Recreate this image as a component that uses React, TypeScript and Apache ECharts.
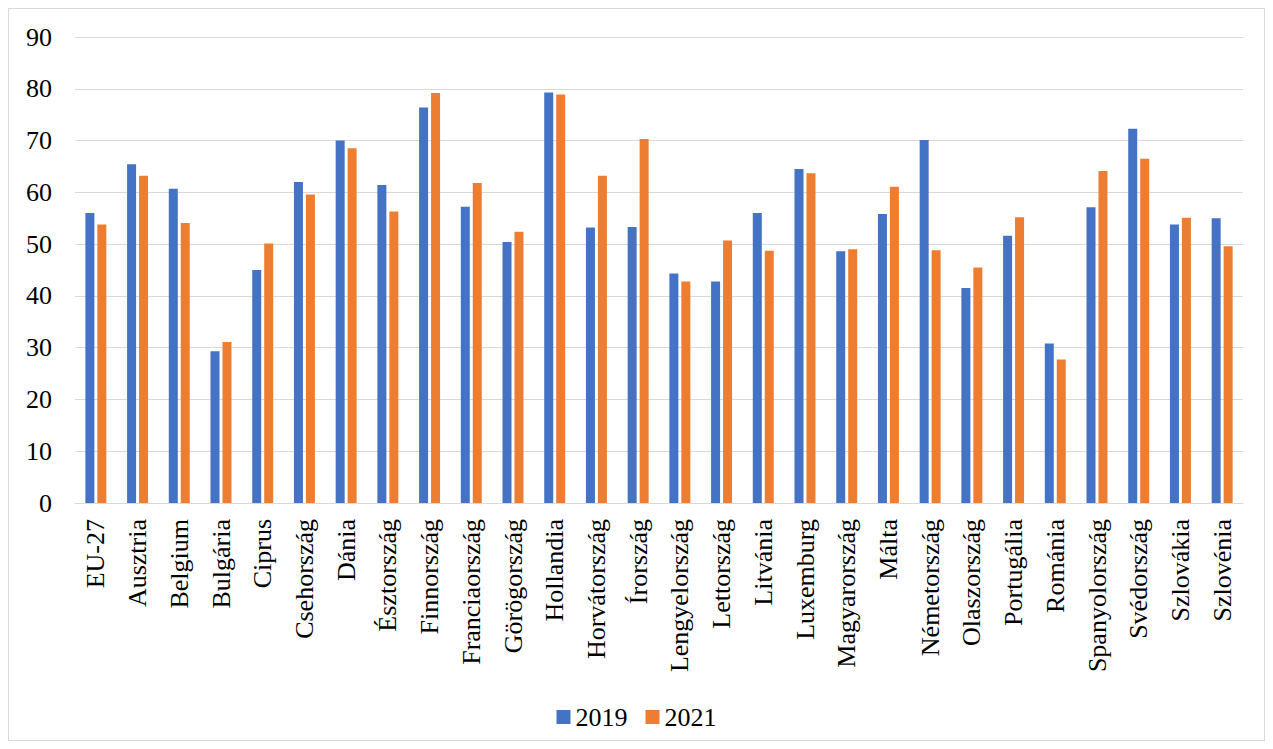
import React, { useEffect, useRef } from "react";
import * as echarts from "echarts";

const categories = [
  "EU-27", "Ausztria", "Belgium", "Bulgária", "Ciprus", "Csehország", "Dánia",
  "Észtország", "Finnország", "Franciaország", "Görögország", "Hollandia",
  "Horvátország", "Írország", "Lengyelország", "Lettország", "Litvánia",
  "Luxemburg", "Magyarország", "Málta", "Németország", "Olaszország",
  "Portugália", "Románia", "Spanyolország", "Svédország", "Szlovákia", "Szlovénia",
];

const values2019 = [
  56.0, 65.4, 60.7, 29.3, 45.0, 62.0, 70.0, 61.4, 76.4, 57.2, 50.4, 79.3, 53.2, 53.3,
  44.3, 42.8, 56.0, 64.5, 48.6, 55.8, 70.1, 41.5, 51.6, 30.8, 57.1, 72.3, 53.8, 55.0,
];

const values2021 = [
  53.8, 63.2, 54.1, 31.1, 50.1, 59.6, 68.5, 56.3, 79.2, 61.8, 52.4, 78.9, 63.2, 70.3,
  42.8, 50.7, 48.7, 63.7, 49.0, 61.1, 48.8, 45.5, 55.2, 27.7, 64.1, 66.5, 55.1, 49.6,
];

const seriesNames = ["2019", "2021"];
const yTicks = { min: 0, max: 90, interval: 10 };

const FONT = "'Liberation Serif', 'Times New Roman', serif";

export default function App() {
  const ref = useRef<HTMLDivElement>(null);

  useEffect(() => {
    if (!ref.current) return;
    const chart = echarts.init(ref.current, undefined, { renderer: "svg" });
    chart.setOption({
      animation: false,
      backgroundColor: "#ffffff",
      textStyle: { fontFamily: FONT, color: "#000" },
      grid: { left: 66, right: 21, top: 28, bottom: 237, containLabel: false },
      legend: {
        data: seriesNames,
        top: 690,
        left: "center",
        itemWidth: 14,
        itemHeight: 14,
        itemGap: 18,
        icon: "rect",
        textStyle: { fontFamily: FONT, fontSize: 26, color: "#000" },
      },
      xAxis: {
        type: "category",
        data: categories,
        axisLine: { show: true, lineStyle: { color: "#d9d9d9", width: 1 } },
        axisTick: { show: false },
        axisLabel: {
          rotate: 90,
          interval: 0,
          margin: 16,
          fontFamily: FONT,
          fontSize: 26,
          color: "#000",
        },
      },
      yAxis: {
        type: "value",
        min: yTicks.min,
        max: yTicks.max,
        interval: yTicks.interval,
        axisLine: { show: false },
        axisTick: { show: false },
        splitLine: { lineStyle: { color: "#d9d9d9", width: 1 } },
        axisLabel: { margin: 23, fontFamily: FONT, fontSize: 26, color: "#000" },
      },
      series: [
        {
          name: seriesNames[0],
          type: "bar",
          data: values2019,
          barWidth: 9,
          barGap: "33%",
          itemStyle: { color: "#4472C4" },
        },
        {
          name: seriesNames[1],
          type: "bar",
          data: values2021,
          barWidth: 9,
          itemStyle: { color: "#ED7D31" },
        },
      ],
    });
    return () => chart.dispose();
  }, []);

  return (
    <div
      style={{
        width: 1257,
        height: 733,
        border: "1px solid #d9d9d9",
        boxSizing: "border-box",
      }}
    >
      <div ref={ref} style={{ width: 1255, height: 731 }} />
    </div>
  );
}
